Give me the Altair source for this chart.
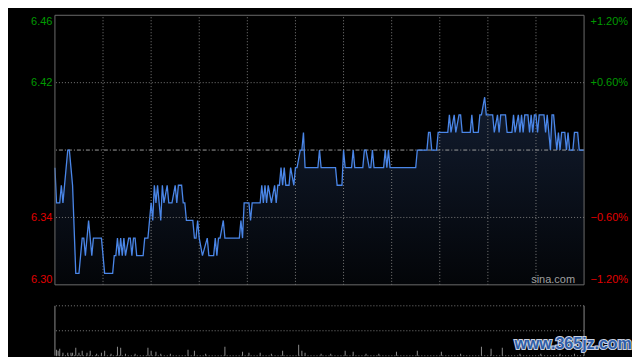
import altair as alt
import pandas as pd

# ---------------- data ----------------
prev_close = 6.38
pct_levels = [-1.2, -0.6, 0.6, 1.2]
grid_pct = [-0.6, 0.6]
grid_minutes = [30, 60, 90, 120, 150, 180, 210, 240, 270, 300]
session_minutes = [0, 330]

minutes = [0, 1, 3, 4, 5, 8, 9, 10, 11, 13, 15, 17, 18, 19, 21, 23, 24, 29, 31, 36,
           37, 38, 39, 40, 41, 42, 43, 44, 46, 47, 48, 49, 50, 51, 55, 56, 58, 60, 61, 62,
           63, 64, 65, 66, 67, 68, 70, 71, 73, 75, 76, 77, 79, 80, 81, 82, 86, 87, 88, 89,
           90, 92, 95, 96, 99, 100, 101, 102, 103, 105, 106, 115, 116, 117, 118, 121, 122, 123, 128, 129,
           130, 131, 132, 133, 135, 137, 138, 139, 140, 141, 142, 143, 144, 146, 147, 149, 150, 151, 153, 154,
           155, 156, 164, 165, 166, 175, 176, 179, 180, 181, 185, 186, 187, 192, 193, 194, 196, 197, 198, 199,
           205, 206, 207, 208, 209, 225, 226, 232, 233, 234, 235, 238, 239, 245, 246, 247, 249, 250, 252, 253,
           254, 259, 260, 261, 264, 265, 266, 268, 269, 273, 274, 276, 277, 278, 281, 282, 285, 286, 287, 289,
           290, 291, 292, 293, 295, 296, 297, 298, 299, 300, 301, 302, 305, 306, 307, 309, 310, 311, 313, 314,
           315, 316, 318, 319, 320, 321, 323, 324, 326, 327, 330]
prices = [6.37, 6.35, 6.35, 6.36, 6.35, 6.38, 6.38, 6.37, 6.36, 6.31, 6.31, 6.33, 6.33, 6.32, 6.34, 6.32, 6.33, 6.33, 6.31, 6.31,
          6.32, 6.32, 6.33, 6.32, 6.33, 6.32, 6.33, 6.32, 6.33, 6.33, 6.32, 6.33, 6.33, 6.32, 6.32, 6.33, 6.33, 6.35, 6.34, 6.36,
          6.35, 6.36, 6.35, 6.34, 6.36, 6.35, 6.36, 6.35, 6.35, 6.36, 6.35, 6.36, 6.36, 6.35, 6.35, 6.34, 6.34, 6.33, 6.33, 6.34,
          6.33, 6.32, 6.33, 6.32, 6.32, 6.33, 6.32, 6.33, 6.33, 6.34, 6.33, 6.33, 6.34, 6.33, 6.35, 6.35, 6.34, 6.35, 6.35, 6.36,
          6.35, 6.36, 6.35, 6.36, 6.35, 6.36, 6.35, 6.36, 6.36, 6.37, 6.36, 6.37, 6.36, 6.36, 6.37, 6.36, 6.37, 6.37, 6.38, 6.38,
          6.39, 6.37, 6.37, 6.38, 6.37, 6.37, 6.36, 6.36, 6.38, 6.37, 6.37, 6.38, 6.37, 6.37, 6.38, 6.38, 6.37, 6.37, 6.38, 6.37,
          6.37, 6.38, 6.37, 6.38, 6.37, 6.37, 6.38, 6.38, 6.39, 6.39, 6.38, 6.38, 6.39, 6.39, 6.40, 6.39, 6.40, 6.39, 6.40, 6.40,
          6.39, 6.39, 6.40, 6.39, 6.39, 6.40, 6.40, 6.41, 6.40, 6.40, 6.39, 6.40, 6.39, 6.40, 6.40, 6.39, 6.39, 6.40, 6.39, 6.40,
          6.39, 6.40, 6.39, 6.40, 6.40, 6.39, 6.40, 6.39, 6.40, 6.40, 6.39, 6.40, 6.40, 6.39, 6.40, 6.38, 6.40, 6.40, 6.38, 6.39,
          6.38, 6.39, 6.39, 6.38, 6.39, 6.38, 6.38, 6.39, 6.39, 6.38, 6.38]

vol_minutes = [1, 2, 3, 5, 8, 10, 11, 13, 15, 17, 20, 22, 26, 29, 31, 35, 39, 41, 44, 50,
               58, 60, 63, 66, 72, 83, 87, 94, 106, 117, 121, 128, 135, 142, 152, 154, 156, 166, 172, 181,
               186, 194, 202, 213, 226, 241, 253, 266, 272, 279, 290, 303, 315, 324]
vol_values = [6, 5, 7, 3, 3, 3, 3, 8, 3, 5, 3, 5, 2, 3, 5, 2, 9, 8, 2, 2,
              8, 5, 4, 2, 2, 6, 5, 2, 9, 4, 3, 3, 2, 5, 11, 5, 3, 2, 2, 5,
              4, 2, 2, 4, 5, 4, 2, 9, 7, 8, 2, 2, 2, 2]
vol_grid = [0, 25, 50]

# ---------------- build ----------------
price_ticks = [prev_close * (1 + p / 100) for p in pct_levels]
lo, hi = price_ticks[0], price_ticks[-1]

FONT = "Liberation Sans"
GREEN = "#009a00"
RED = "#e00000"
GRID = "#7a7a7a"
FRAME = "#6a6a6a"

MAIN_H = 270
VOL_TOP, VOL_BOTTOM = 291, 341
W, H = 530, 341

xscale = alt.Scale(domain=[0, 330], nice=False, zero=False, padding=0)
xs = alt.X("minute:Q", scale=xscale, axis=None)
pscale = alt.Scale(domain=[lo, hi], range=[MAIN_H, 0], nice=False, zero=False)
pcts = alt.Scale(domain=[pct_levels[0], pct_levels[-1]], range=[MAIN_H, 0], nice=False, zero=False)
vscale = alt.Scale(domain=[0, 50], range=[VOL_BOTTOM, VOL_TOP], nice=False, zero=False, padding=0)

line_df = pd.DataFrame({"minute": minutes, "price": prices})

left_axis = alt.Axis(orient="left", values=price_ticks, format=".2f",
                     labelColor={"expr": f"datum.value > {prev_close} ? '{GREEN}' : '{RED}'"},
                     labelFont=FONT, labelFontSize=11, ticks=False, domain=False, grid=False,
                     labelPadding=3, labelFlush=True, title=None)
right_axis = alt.Axis(orient="right", values=pct_levels,
                      labelExpr="(datum.value > 0 ? '+' : '') + format(datum.value, '.2f') + '%'",
                      labelColor={"expr": f"datum.value > 0 ? '{GREEN}' : '{RED}'"},
                      labelFont=FONT, labelFontSize=11, ticks=False, domain=False, grid=False,
                      labelPadding=6, labelFlush=True, title=None)

# --- price panel (one shared price scale; the left axis comes from it) ---
area = alt.Chart(line_df).mark_area(
    color=alt.Gradient(gradient="linear",
                       stops=[alt.GradientStop(offset=0, color="#121c2f"),
                              alt.GradientStop(offset=1, color="#030508")],
                       x1=0, x2=0, y1=0, y2=1)
).encode(x=xs, y=alt.Y("price:Q", scale=pscale, axis=left_axis), y2=alt.datum(lo))

vgrid = alt.Chart(pd.DataFrame({"minute": grid_minutes})).mark_rule(
    color=GRID, strokeDash=[1, 2], strokeWidth=1
).encode(x=xs, y=alt.datum(lo), y2=alt.datum(hi))

prev_rule = alt.Chart(pd.DataFrame({"price": [prev_close]})).mark_rule(
    color="#9a9a9a", strokeDash=[4, 2, 1, 2], strokeWidth=1
).encode(y=alt.Y("price:Q", scale=pscale))

line = alt.Chart(line_df).mark_line(color="#4a86e8", strokeWidth=1.3).encode(
    x=xs, y=alt.Y("price:Q", scale=pscale))

frame_h = alt.Chart(pd.DataFrame({"price": [lo, hi]})).mark_rule(
    color=FRAME, strokeWidth=1).encode(y=alt.Y("price:Q", scale=pscale))
frame_v = alt.Chart(pd.DataFrame({"minute": session_minutes})).mark_rule(
    color=FRAME, strokeWidth=1).encode(x=xs, y=alt.datum(lo), y2=alt.datum(hi))

sina = alt.Chart(pd.DataFrame({"t": ["sina.com"]})).mark_text(
    font=FONT, fontSize=11, color="#a0a0a0", align="center", baseline="middle"
).encode(text="t:N", x=alt.value(499), y=alt.value(265))

price_panel = alt.layer(area, vgrid, prev_rule, line, frame_h, frame_v, sina)

# --- percent grid + right axis ---
pct_rules = alt.Chart(pd.DataFrame({"pct": grid_pct})).mark_rule(
    color=GRID, strokeDash=[1, 2], strokeWidth=1
).encode(y=alt.Y("pct:Q", scale=pcts, axis=right_axis))

# --- volume panel ---
vol_df = pd.DataFrame({"minute": vol_minutes, "vol": vol_values})
vgrid2 = alt.Chart(pd.DataFrame({"v": vol_grid})).mark_rule(
    color=GRID, strokeDash=[1, 2], strokeWidth=1
).encode(y=alt.Y("v:Q", scale=vscale, axis=None))
bars = alt.Chart(vol_df).mark_bar(width=1, color="#8a8a8a").encode(
    x=xs, y=alt.Y("vol:Q", scale=vscale, axis=None), y2=alt.datum(0))
vborder = alt.Chart(pd.DataFrame({"minute": session_minutes})).mark_rule(
    color="#8a8a8a", strokeWidth=1).encode(x=xs, y=alt.datum(0), y2=alt.datum(50))

wm_df = pd.DataFrame({"t": ["www.365jz.com"]})
wm_back = alt.Chart(wm_df).mark_text(
    font=FONT, fontSize=16, fontWeight="bold", fill="#c9d2e2", stroke="#c9d2e2", strokeWidth=2,
    align="center", baseline="middle"
).encode(text="t:N", x=alt.value(519), y=alt.value(329))
wm_front = alt.Chart(wm_df).mark_text(
    font=FONT, fontSize=16, fontWeight="bold", fill="#2f5ea8",
    align="center", baseline="middle"
).encode(text="t:N", x=alt.value(519), y=alt.value(329))

vol_panel = alt.layer(vgrid2, bars, vborder)

chart = alt.layer(price_panel, pct_rules, vol_panel, wm_back, wm_front).resolve_scale(
    y="independent"
).properties(
    width=W, height=H,
    padding={"left": 22, "top": 6, "right": 0, "bottom": 0}
).configure(background="#000000").configure_view(stroke="transparent")

chart.save("out.html", embed_options={"renderer": "svg", "actions": False})
